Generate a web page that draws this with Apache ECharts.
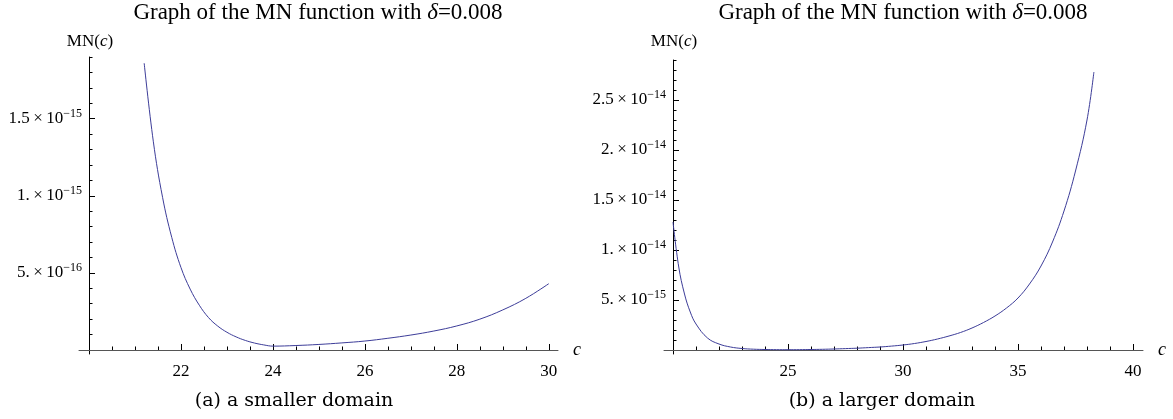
<!DOCTYPE html>
<html><head><meta charset="utf-8">
<script src="https://cdn.jsdelivr.net/npm/echarts@6/dist/echarts.min.js"></script>
<style>html,body{margin:0;padding:0;background:#fff}#c{width:1173px;height:419px}</style>
</head><body><div id="c"></div>
<script>
// ---- data: panel (a), smaller domain ----
const cA  = [21.2, 21.4, 21.6, 21.8, 22.0, 22.2, 22.4, 22.6, 22.8, 23.0, 23.2, 23.4, 23.6, 23.8, 24.0, 24.5, 25.0, 25.5, 26.0, 26.5, 27.0, 27.5, 28.0, 28.5, 29.0, 29.5, 30.0];
const mnA = [18.6e-16, 13.5e-16, 9.9e-16, 7.3e-16, 5.35e-16, 3.95e-16, 2.9e-16, 2.1e-16, 1.55e-16, 1.15e-16, 0.85e-16, 0.62e-16, 0.45e-16, 0.33e-16, 0.25e-16, 0.29e-16, 0.36e-16, 0.46e-16, 0.58e-16, 0.76e-16, 0.97e-16, 1.23e-16, 1.56e-16, 2.0e-16, 2.6e-16, 3.35e-16, 4.3e-16];
// ---- data: panel (b), larger domain ----
const cB  = [20.0, 20.25, 20.5, 20.75, 21.0, 21.5, 22.0, 22.5, 23.0, 23.5, 24.0, 24.5, 25.0, 25.5, 26.0, 26.5, 27.0, 27.5, 28.0, 28.5, 29.0, 29.5, 30.0, 30.5, 31.0, 31.5, 32.0, 32.5, 33.0, 33.5, 34.0, 34.5, 35.0, 35.5, 36.0, 36.5, 37.0, 37.5, 38.0, 38.3];
const mnB = [12.8e-15, 8.3e-15, 5.6e-15, 3.8e-15, 2.6e-15, 1.2e-15, 0.6e-15, 0.3e-15, 0.15e-15, 0.08e-15, 0.05e-15, 0.035e-15, 0.03e-15, 0.035e-15, 0.05e-15, 0.07e-15, 0.1e-15, 0.14e-15, 0.18e-15, 0.24e-15, 0.3e-15, 0.39e-15, 0.5e-15, 0.65e-15, 0.85e-15, 1.1e-15, 1.4e-15, 1.75e-15, 2.2e-15, 2.75e-15, 3.4e-15, 4.2e-15, 5.2e-15, 6.6e-15, 8.4e-15, 10.8e-15, 13.9e-15, 17.9e-15, 23.0e-15, 27.8e-15];
// ---- ticks ----
const xMajorA = [22, 24, 26, 28, 30];
const xMinorA = [20.5, 21, 21.5, 22, 22.5, 23, 23.5, 24, 24.5, 25, 25.5, 26, 26.5, 27, 27.5, 28, 28.5, 29, 29.5, 30];
const yMajorA = [5e-16, 1e-15, 1.5e-15];
const yMinorA = [1e-16, 2e-16, 3e-16, 4e-16, 5e-16, 6e-16, 7e-16, 8e-16, 9e-16, 1e-15, 1.1e-15, 1.2e-15, 1.3e-15, 1.4e-15, 1.5e-15, 1.6e-15, 1.7e-15, 1.8e-15, 1.9e-15];
const xMajorB = [25, 30, 35, 40];
const xMinorB = [21, 22, 23, 24, 25, 26, 27, 28, 29, 30, 31, 32, 33, 34, 35, 36, 37, 38, 39, 40];
const yMajorB = [5e-15, 1e-14, 1.5e-14, 2e-14, 2.5e-14];
const yMinorB = [];
for (let k = 1; k <= 29; k++) yMinorB.push(k * 1e-15);
// ---- texts ----
const titleText = '{a|Graph of the MN function with }{i|δ}{a|=0.008}';
const yName = '{a|MN(}{i|c}{a|)}';
const captionA = '(a) a smaller domain';
const captionB = '(b) a larger domain';

const SERIF = '"Liberation Serif", "Times New Roman", serif';
const LINE = '#3d3d99';

function sci(v) {
  const e = Math.floor(Math.log10(v) + 1e-9);
  const m = +(v / Math.pow(10, e)).toFixed(2);
  const ms = Number.isInteger(m) ? m + '.' : String(m);
  return '{m|' + ms + '\u2009×\u200910}{e|\u2212' + (-e) + '}';
}
const richY = {
  m: { fontFamily: SERIF, fontSize: 17, color: '#000', lineHeight: 22 },
  e: { fontFamily: SERIF, fontSize: 12, color: '#000', lineHeight: 13, verticalAlign: 'top' }
};

function panel(g, cfg) {
  const xs = [
    { gridIndex: g, type: 'value', min: cfg.xmin, max: cfg.xmax, position: 'bottom',
      axisLine: { show: true, onZero: true, onZeroAxisIndex: 2 * g, lineStyle: { color: '#555', width: 1 } },
      axisTick: { show: true, inside: true, length: 6, customValues: cfg.xMajor, lineStyle: { color: '#000' } },
      axisLabel: { show: true, customValues: cfg.xMajor, margin: 9, fontFamily: SERIF, fontSize: 17, color: '#000', formatter: v => String(v) },
      splitLine: { show: false },
      name: 'c', nameLocation: 'end', nameGap: 15,
      nameTextStyle: { fontFamily: SERIF, fontStyle: 'italic', fontSize: 18, color: '#000' } },
    { gridIndex: g, type: 'value', min: cfg.xmin, max: cfg.xmax, position: 'bottom',
      axisLine: { show: false, onZero: true, onZeroAxisIndex: 2 * g },
      axisTick: { show: true, inside: true, length: 3.5, customValues: cfg.xMinor, lineStyle: { color: '#000' } },
      axisLabel: { show: false }, splitLine: { show: false } }
  ];
  const ys = [
    { gridIndex: g, type: 'value', min: cfg.ymin, max: cfg.ymax, position: 'left', offset: cfg.yOff,
      axisLine: { show: true, onZero: false, lineStyle: { color: '#000', width: 1 } },
      axisTick: { show: true, inside: true, length: 6, customValues: cfg.yMajor, lineStyle: { color: '#000' } },
      axisLabel: { show: true, customValues: cfg.yMajor, margin: 7, formatter: sci, rich: richY },
      splitLine: { show: false } },
    { gridIndex: g, type: 'value', min: cfg.ymin, max: cfg.ymax, position: 'left', offset: cfg.yOff,
      axisLine: { show: false, onZero: false },
      axisTick: { show: true, inside: true, length: 3.5, customValues: cfg.yMinor, lineStyle: { color: '#000' } },
      axisLabel: { show: false }, splitLine: { show: false } }
  ];
  return { xs, ys };
}

const pA = panel(0, { xmin: 20 - 10 / 46, xmax: 30.2, ymin: -2.6e-17, ymax: 1.9e-15, yOff: -10,
  xMajor: xMajorA, xMinor: xMinorA, yMajor: yMajorA, yMinor: yMinorA });
const pB = panel(1, { xmin: 20 - 9 / 23, xmax: 20 + 470 / 23, ymin: -0.4e-15, ymax: 29e-15, yOff: -9,
  xMajor: xMajorB, xMinor: xMinorB, yMajor: yMajorB, yMinor: yMinorB });

const chart = echarts.init(document.getElementById('c'), null, { renderer: 'canvas' });

function txt(x, y, text, rich, align) {
  return { type: 'text', x, y, style: { text, rich, align: align || 'center', verticalAlign: 'middle', fill: '#000' } };
}
const richTitle = {
  a: { fontFamily: SERIF, fontSize: 23, color: '#000' },
  i: { fontFamily: SERIF, fontSize: 23, fontStyle: 'italic', color: '#000' }
};
const richName = {
  a: { fontFamily: SERIF, fontSize: 17, color: '#000' },
  i: { fontFamily: SERIF, fontSize: 17, fontStyle: 'italic', color: '#000' }
};
const richCap = { a: { fontFamily: '"DejaVu Serif", serif', fontSize: 19, color: '#111' } };

chart.setOption({
  animation: false,
  backgroundColor: '#fff',
  grid: [
    { left: 79, top: 57, width: 479, height: 297, outerBoundsMode: 'none', containLabel: false },
    { left: 664, top: 60, width: 479, height: 294, outerBoundsMode: 'none', containLabel: false }
  ],
  xAxis: [...pA.xs, ...pB.xs],
  yAxis: [...pA.ys, ...pB.ys],
  series: [
    { type: 'line', xAxisIndex: 0, yAxisIndex: 0, data: cA.map((c, i) => [c, mnA[i]]),
      showSymbol: false, smooth: 0.4, clip: true,
      lineStyle: { color: LINE, width: 1 } },
    { type: 'line', xAxisIndex: 2, yAxisIndex: 2, data: cB.map((c, i) => [c, mnB[i]]),
      showSymbol: false, smooth: 0.4, clip: true,
      lineStyle: { color: LINE, width: 1 } }
  ],
  graphic: [
    txt(318, 13, titleText, richTitle),
    txt(903, 13, titleText, richTitle),
    txt(90, 42, yName, richName),
    txt(674, 42, yName, richName),
    txt(294, 401, '{a|' + captionA + '}', richCap),
    txt(882, 401, '{a|' + captionB + '}', richCap)
  ]
});
</script></body></html>
